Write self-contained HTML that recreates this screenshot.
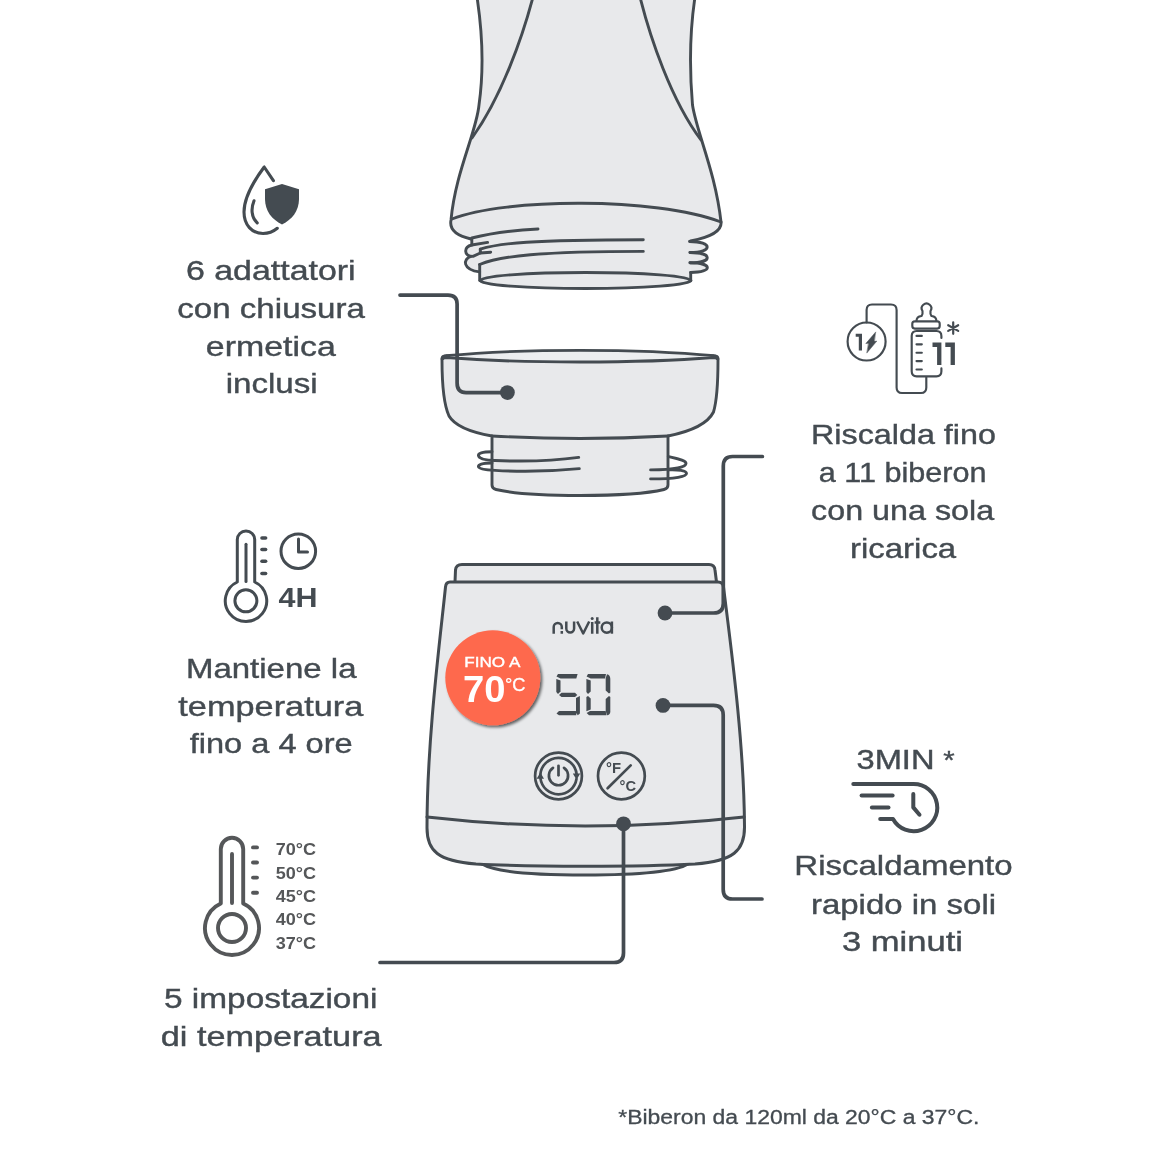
<!DOCTYPE html>
<html><head><meta charset="utf-8">
<style>
html,body{margin:0;padding:0;background:#ffffff;width:1160px;height:1160px;overflow:hidden}
svg{display:block;will-change:transform}
text{font-family:"Liberation Sans",sans-serif}
</style></head>
<body>
<svg width="1160" height="1160" viewBox="0 0 1160 1160">
<defs>
<filter id="sh" x="-20%" y="-20%" width="150%" height="150%">
<feGaussianBlur in="SourceAlpha" stdDeviation="1.6"/>
<feOffset dx="1.5" dy="2.2"/>
<feComponentTransfer><feFuncA type="linear" slope="0.6"/></feComponentTransfer>
<feMerge><feMergeNode/><feMergeNode in="SourceGraphic"/></feMerge>
</filter>
</defs>
<rect width="1160" height="1160" fill="#ffffff"/>
<!-- ===== BOTTLE ===== -->
<g id="bottle" fill="none" stroke="#444b51" stroke-width="2.9" stroke-linecap="round" stroke-linejoin="round">
<path fill="#e8e9eb" stroke="none" d="M477,-3 C482,30 484,70 479,105 C476.5,132 455.5,172 451,220 C449,230 458,236 471,239 L480,281 L691,281 L690,241 C712,237 722,230 721,222 C715.5,172 696.5,132 692.5,105 C689.5,70 690,30 695,-3 Z"/>
<path fill="#e8e9eb" stroke="none" d="M471.8,238 L471.8,245 L466,250 L471.8,256 L466,262 L479.7,272 L479.7,281 L690.4,281 L690.4,241.3 Z"/><path fill="#e8e9eb" stroke="none" d="M689.5,241.5 C713,241.5 713,252.5 690,252.5 C713,252.5 713,262.8 690,262.8 C713,262.8 713,272.5 690.7,272.5Z"/><path fill="#e8e9eb" stroke="none" d="M471.8,243.5 C465,245 465,254 473,255.5 C464.5,261.5 464.5,270 479.7,271.6 L480,250Z"/>
<path d="M477,-3 C482,30 484,70 479,105 C476.5,132 455.5,172 451,220 C449,230 458,236 471,239"/>
<path d="M695,-3 C690,30 689.5,70 692.5,105 C696.5,132 715.5,172 721,222 C722,230 712,237 690.5,241"/>
<path d="M533,-3 C522.5,37 501.5,97 472,138"/>
<path d="M640,-3 C650,37 671,100 701,140"/>
<path d="M452,219 C505,198 655,197 721,222"/>
<path d="M471.8,238 Q500,231 538,229"/>
<path d="M471.8,238.5 L471.8,245 L487.6,242.4"/>
<path d="M471.8,245 C463.5,247 463.5,256 473,256.4 L480.3,253"/>
<path d="M480.3,249.1 C500,243 530,240 643.3,239.7"/>
<path d="M480.3,249.1 L480.3,253 L490.7,252.2"/>
<path d="M479.7,264.5 C500,256 540,251.4 643.3,251.4"/>
<path d="M471,256.4 C462.5,259 462.5,270 479.7,271.9"/>
<path d="M479.7,264.5 L479.7,280.5"/>
<path d="M690.7,272.5 L690.7,280.5"/>
<path d="M689.5,241.5 C713,241.5 713,252.5 690,252.5"/>
<path d="M690,252.5 C713,252.5 713,262.8 690,262.8"/>
<path d="M690,262.8 C713,262.8 713,272.5 690.7,272.5"/>
<ellipse cx="585.5" cy="280.5" rx="105.5" ry="8" fill="#e8e9eb"/>
</g>


<!-- ===== ADAPTER ===== -->
<g id="adapter" fill="none" stroke="#444b51" stroke-width="2.9" stroke-linecap="round" stroke-linejoin="round">
<path fill="#e8e9eb" d="M442,360 Q442,356.5 446,356 L714,356 Q718,356.5 718,360 C718,385 716.5,402 713.5,412 C707,425 688,432 668,436 L668,485 Q668,488.5 664,489.5 C630,497.5 530,497.5 496,489.5 Q492,488.5 492,485 L492,436 C475,433 456,428 449,416 C444,405 442,385 442,360 Z"/>
<path d="M492,436 Q580,441 668,436"/>
<path fill="#eceef0" d="M442,359 Q442,356 446,355.8 C520,348.5 640,348.5 714,355.8 Q718,356 718,359 Q716,357.5 713,357.5 C640,363.5 520,363.5 447,357.5 Q444,357.5 442,359 Z"/>
<path d="M492,451.8 C482,451.8 478,453.5 478.5,455.8 C479,458.5 485,460.2 495,460.5 C530,462 560,460 578.7,457.4"/>
<path d="M492,463 C482,463 478,464.8 478.5,466.8 C479,469.2 485,470 495,470.4 C530,472.5 560,470.5 579.3,468.6"/>
<path d="M668.3,456.6 C678,459 686,460.5 686,463.5 C686,467 676,469.9 650.6,469.9"/>
<path d="M668.3,469.9 C678,469.5 686.5,470.5 686.5,473.5 C686.5,476.5 676,478.9 650.6,478.9"/>
</g>


<!-- ===== WARMER ===== -->
<g id="warmer" fill="none" stroke="#444b51" stroke-width="3.0" stroke-linecap="round" stroke-linejoin="round">
<path fill="#e8e9eb" d="M482,864 C495,872 530,875 585,875 C640,875 675,872 688,864"/>
<path fill="#e8e9eb" d="M455,582 L455.5,570 Q456,564.5 462,564.5 L709,564.5 Q714.5,564.5 715,570 L716.5,582"/>
<path fill="#e8e9eb" d="M450,582 L718,582 Q723,582 723.5,587 C730,640 744,740 744.5,826 C745,851 733,861 695,864 C640,867 530,867 476,864 C438,861 427,851 427,828 C427,740 440,640 445.5,587 Q446,582 450,582 Z"/>
<path d="M427,817 Q585,835 744,817"/>
</g>


<!-- BODY_DETAILS -->
<g id="details">
<g filter="url(#sh)"><circle cx="492.8" cy="677.8" r="47.5" fill="#fe694e"/></g>
<text x="492.3" y="666.6" font-size="14.5" fill="#ffffff" stroke="#ffffff" stroke-width="0.4" text-anchor="middle" textLength="56" lengthAdjust="spacingAndGlyphs">FINO A</text>
<text x="463" y="701.5" font-size="36.5" font-weight="bold" fill="#ffffff" textLength="42.5" lengthAdjust="spacingAndGlyphs">70</text>
<text x="505" y="690.8" font-size="18.5" fill="#ffffff" stroke="#ffffff" stroke-width="0.3" textLength="20.5" lengthAdjust="spacingAndGlyphs">°C</text>
<g fill="none" stroke="#444b51" stroke-width="2.5" stroke-linecap="butt">
<path d="M553.7,633.7 L553.7,627 A4.05,4.05 0 0 1 561.8,627 L561.8,629.2 M561.8,631 L561.8,633.7"/>
<path d="M566.3,621.5 L566.3,628.5 A3.9,3.9 0 0 0 574.1,628.5 L574.1,621.5"/>
<path d="M577.2,621.5 L583.2,633.5 L589.2,621.5" stroke-linejoin="round"/>
<path d="M592.2,622 L592.2,633.7 M597.3,617.3 L597.3,633.7 M594.6,622.6 L600.3,622.6"/>
<circle cx="606.8" cy="627.6" r="5.1"/>
<path d="M611.9,621.5 L611.9,633.7"/>
</g>
<circle cx="592.2" cy="618.5" r="1.5" fill="#444b51"/>
<g fill="#444b51" stroke="none">
<path d="M558,674 L577.6,674 L576.3,678.5 L560.5,678.5 L556.5,676.5 Z"/>
<path d="M556.3,679 L560.5,680.5 L560.5,691.5 L558,694 L556.3,692 Z"/>
<path d="M559,695 L561.5,692.7 L575,692.7 L577.3,695 L575,697 L561.5,697 Z"/>
<path d="M576,698 L579.9,696 L579.9,713.5 L577.8,715.2 L576,713 Z"/>
<path d="M556.5,713.5 L559,711 L575.9,711 L576.3,715.2 L559,715.2 Z"/>
<path d="M588,674 L606,674 L605,678.5 L590.7,678.5 L586.6,676.5 Z"/>
<path d="M586.4,679 L590.7,680.5 L590.7,691.5 L588,694 L586.4,692 Z"/>
<path d="M586.4,697 L588,695.9 L590.7,698.5 L590.7,709.5 L586.4,711.2 Z"/>
<path d="M605.7,678 L607,674.3 Q610.3,675 610.3,679 L610.3,692.5 L609,693.6 L605.7,690.5 Z"/>
<path d="M605.7,699 L609,695.9 L610.3,697 L610.3,712 Q610,715 607,715.2 L605.7,711 Z"/>
<path d="M586.6,713 L590,711 L605.7,711 L606.5,715.2 L589,715.2 Z"/>
</g>
</g>

<g stroke="#444b51" stroke-width="2.7" fill="none" stroke-linecap="round">
<circle cx="558.5" cy="776" r="23.4"/>
<path d="M540.34,774.83 A18.2,18.2 0 0 1 576.60,774.20"/>
<path d="M576.48,778.95 A18.2,18.2 0 0 1 540.48,778.63"/>
<path d="M553,767.8 A9.6,9.6 0 1 0 564,767.8"/>
<path d="M558.5,765.8 L558.5,775.3"/>
<circle cx="621.4" cy="776" r="23.4"/>
<path d="M607.6,788.2 L630.7,765.4"/>
</g>
<path fill="#444b51" d="M572.8,773.5 L580.2,773.5 L576.6,779.8 Z M536.6,778.8 L544,778.8 L540.4,772.5 Z"/>
<text x="606" y="773.2" font-size="14" font-weight="bold" fill="#444b51" textLength="15" lengthAdjust="spacingAndGlyphs">°F</text>
<text x="619.5" y="790.5" font-size="14" font-weight="bold" fill="#444b51" textLength="16.5" lengthAdjust="spacingAndGlyphs">°C</text>

<!-- CONNECTORS -->
<g id="connectors" fill="none" stroke="#444b51" stroke-width="3.7" stroke-linecap="round" stroke-linejoin="round">
<path d="M400,295.1 L448,295.1 Q457.1,295.1 457.1,304 L457.1,383 Q457.1,392.6 466,392.6 L507,392.6"/>
<circle cx="507.4" cy="392.6" r="7.4" fill="#444b51" stroke="none"/>
<path d="M762.4,456.5 L732.5,456.5 Q723.3,456.5 723.3,466 L723.3,603.5 Q723.3,613 713.5,613 L665,613"/>
<circle cx="665" cy="613" r="7.4" fill="#444b51" stroke="none"/>
<path d="M663,705.4 L713.5,705.4 Q723.2,705.4 723.2,715 L723.2,889.5 Q723.2,899 732.5,899 L762,899"/>
<circle cx="663" cy="705.4" r="7.4" fill="#444b51" stroke="none"/>
<path d="M623.5,824 L623.5,953 Q623.5,962.5 614,962.5 L380,962.5"/>
<circle cx="623.5" cy="823.8" r="7.4" fill="#444b51" stroke="none"/>
</g>

<!-- ICONS -->
<g id="icons" fill="none" stroke="#444b51" stroke-linecap="round" stroke-linejoin="round">
<!-- drop shield -->
<path stroke-width="3.1" d="M273.4,180.6 L264.2,167 C256,178 244,196 244,212 C244,225 252,233.5 263,233.5 C269,233.5 274,231 277.3,228.3"/>
<path stroke-width="3.1" d="M254,200.8 C251,208 251,217 257.2,222.9"/>
<path fill="#444b51" stroke="none" d="M282,184 L265,189.3 L265,199 C265,211 272,219.5 282,224.5 C292,219.5 299,211 299,199 L299,189.3 Z"/>
<!-- thermometer 4H -->
<g stroke-width="3">
<path d="M237.3,582 L237.3,539.6 A8.7,8.7 0 0 1 254.7,539.6 L254.7,582 A20.7,20.7 0 1 1 237.3,582 Z"/>
<circle cx="245.9" cy="600.8" r="11"/>
<path d="M246,544.3 L246,581.5"/>
<circle cx="298.3" cy="551.2" r="17.3"/>
<path d="M298.5,539 L298.5,552 L307.5,552"/>
</g>
<g stroke-width="3.6">
<path d="M262,538 L265.6,538"/><path d="M262,549.5 L265.6,549.5"/><path d="M262,561.3 L265.6,561.3"/><path d="M262,573.5 L265.6,573.5"/>
</g>
<!-- thermometer 5 temps -->
<g stroke="#555759" stroke-width="3.9">
<path d="M220.8,903.4 L220.8,849 A11.2,11.2 0 0 1 243.2,849 L243.2,903.4 A27,27 0 1 1 220.8,903.4 Z"/>
<circle cx="232" cy="928" r="14"/>
<path d="M232,854 L232,903"/>
<path d="M253,847.4 L257,847.4"/><path d="M253,862.5 L257,862.5"/><path d="M253,877.6 L257,877.6"/><path d="M253,892.8 L257,892.8"/>
</g>
<!-- charging bottle icon -->
<g stroke-width="2.15">
<circle cx="866.6" cy="341.5" r="19"/>
<path d="M866.6,322.5 L866.6,310 Q866.6,304.5 872,304.5 L891,304.5 Q896.6,304.5 896.6,310 L896.6,387.5 Q896.6,393 902,393 L921,393 Q926.3,393 926.3,387.5 L926.3,377.4"/>
<path d="M941.4,338 L941.4,336 Q941.4,331 936.4,331 L916.7,331 Q911.7,331 911.7,336 L911.7,371.3 Q911.7,376.3 916.7,376.3 L936.4,376.3 Q941.4,376.3 941.4,371.3 L941.4,368.4"/>
<rect x="912.3" y="321.3" width="27.4" height="7.3" rx="2.5"/>
<path d="M916.5,321 Q916.5,316.5 921.5,316 Q923,314 922.5,311 A4.8,4.8 0 1 1 930.5,311 Q930,314 931.5,316 Q936.4,316.5 936.4,321"/>
<path d="M916.5,335.9 L921.8,335.9"/><path d="M916.5,344.3 L921.8,344.3"/><path d="M916.5,352.7 L921.8,352.7"/><path d="M916.5,361.1 L921.8,361.1"/><path d="M916.5,369.5 L921.8,369.5"/>
</g>
<path fill="#444b51" stroke="#444b51" stroke-width="0.5" d="M875.5,332.2 L865.8,343.6 L874,342.3 Z M867,352.8 L876.8,341.1 L868.8,342.5 Z"/>
<path fill="#444b51" stroke="none" d="M855.7,333.7 L862,333.7 L862,350.5 L858.8,350.5 L858.8,336.8 L855.7,336.8 Z"/>
<path fill="#444b51" stroke="none" d="M932.5,342.6 L941.4,342.6 L941.4,365 L937.1,365 L937.1,346.9 L932.5,346.9 Z M945.3,342.6 L954.9,342.6 L954.9,365 L950.6,365 L950.6,346.9 L945.3,346.9 Z"/>
<path stroke-width="2.2" stroke-linecap="round" d="M953.2,322.3 L953.2,333.8 M948.2,325.2 L958.2,330.9 M948.2,330.9 L958.2,325.2"/>
<!-- 3min clock -->
<g stroke-width="4">
<path d="M853.3,784 L913.5,784 A23.6,23.6 0 1 1 893,819 L880.2,819"/>
<path d="M861.6,795.4 L892.6,795.4"/>
<path d="M871.9,807.4 L888.5,807.4"/>
<path d="M913.3,794 L913.3,807.4 L919.5,814.7"/>
</g>
</g>

<g id="texts" fill="#444b51" stroke="#444b51" stroke-width="0.4">
<text x="270.8" y="280.1" text-anchor="middle" textLength="169.7" lengthAdjust="spacingAndGlyphs" font-size="28" >6 adattatori</text>
<text x="271.1" y="318.0" text-anchor="middle" textLength="187.7" lengthAdjust="spacingAndGlyphs" font-size="28" >con chiusura</text>
<text x="270.8" y="356.0" text-anchor="middle" textLength="129.9" lengthAdjust="spacingAndGlyphs" font-size="28" >ermetica</text>
<text x="271.7" y="393.3" text-anchor="middle" textLength="92.0" lengthAdjust="spacingAndGlyphs" font-size="28" >inclusi</text>
<text x="271.2" y="677.9" text-anchor="middle" textLength="170.6" lengthAdjust="spacingAndGlyphs" font-size="28" >Mantiene la</text>
<text x="270.8" y="715.9" text-anchor="middle" textLength="184.9" lengthAdjust="spacingAndGlyphs" font-size="28" >temperatura</text>
<text x="271.2" y="753.4" text-anchor="middle" textLength="163.0" lengthAdjust="spacingAndGlyphs" font-size="28" >fino a 4 ore</text>
<text x="270.7" y="1008.0" text-anchor="middle" textLength="213.4" lengthAdjust="spacingAndGlyphs" font-size="28" >5 impostazioni</text>
<text x="271.2" y="1045.7" text-anchor="middle" textLength="220.9" lengthAdjust="spacingAndGlyphs" font-size="28" >di temperatura</text>
<text x="903.5" y="444.1" text-anchor="middle" textLength="184.9" lengthAdjust="spacingAndGlyphs" font-size="28" >Riscalda fino</text>
<text x="902.6" y="482.1" text-anchor="middle" textLength="167.8" lengthAdjust="spacingAndGlyphs" font-size="28" >a 11 biberon</text>
<text x="902.6" y="520.0" text-anchor="middle" textLength="183.0" lengthAdjust="spacingAndGlyphs" font-size="28" >con una sola</text>
<text x="903.1" y="557.9" text-anchor="middle" textLength="106.2" lengthAdjust="spacingAndGlyphs" font-size="28" >ricarica</text>
<text x="903.5" y="875.4" text-anchor="middle" textLength="218.3" lengthAdjust="spacingAndGlyphs" font-size="28" >Riscaldamento</text>
<text x="903.5" y="913.7" text-anchor="middle" textLength="185.1" lengthAdjust="spacingAndGlyphs" font-size="28" >rapido in soli</text>
<text x="902.5" y="950.9" text-anchor="middle" textLength="121.1" lengthAdjust="spacingAndGlyphs" font-size="28" >3 minuti</text>
<text x="895.5" y="769.1" text-anchor="middle" textLength="78.0" lengthAdjust="spacingAndGlyphs" font-size="27.5" >3MIN</text>
<text x="949.0" y="768.7" text-anchor="middle" textLength="11.4" lengthAdjust="spacingAndGlyphs" font-size="26.5" >*</text>
<text x="798.8" y="1124.4" text-anchor="middle" textLength="361.1" lengthAdjust="spacingAndGlyphs" font-size="20" stroke-width="0.3">*Biberon da 120ml da 20°C a 37°C.</text>
</g>
<g fill="#444b51">
<text x="298.0" y="607.2" text-anchor="middle" textLength="39.0" lengthAdjust="spacingAndGlyphs" font-size="27.8" font-weight="bold">4H</text>
</g>
<g fill="#555759">
<text x="295.9" y="855.4" text-anchor="middle" textLength="40.3" lengthAdjust="spacingAndGlyphs" font-size="16" font-weight="bold">70°C</text>
<text x="295.9" y="878.9" text-anchor="middle" textLength="40.3" lengthAdjust="spacingAndGlyphs" font-size="16" font-weight="bold">50°C</text>
<text x="295.9" y="901.9" text-anchor="middle" textLength="40.3" lengthAdjust="spacingAndGlyphs" font-size="16" font-weight="bold">45°C</text>
<text x="295.9" y="925.4" text-anchor="middle" textLength="40.3" lengthAdjust="spacingAndGlyphs" font-size="16" font-weight="bold">40°C</text>
<text x="295.9" y="948.9" text-anchor="middle" textLength="40.3" lengthAdjust="spacingAndGlyphs" font-size="16" font-weight="bold">37°C</text>
</g>

</svg>
</body></html>
